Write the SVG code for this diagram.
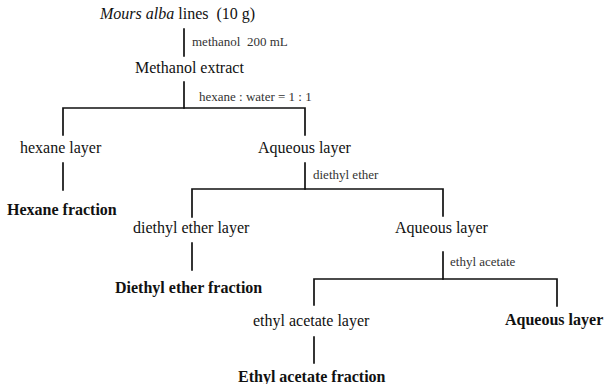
<svg xmlns="http://www.w3.org/2000/svg" width="605" height="384" viewBox="0 0 605 384">
<style>
.n{font-family:"Liberation Serif","Times New Roman",serif;font-size:16px;fill:#111}
.b{font-weight:bold}
.s{font-family:"Liberation Serif","Times New Roman",serif;font-size:13px;fill:#333}
.c{stroke:#111;stroke-width:1.7;fill:none;stroke-linecap:square}
</style>
<rect width="605" height="384" fill="#fff"/>
<g id="connectors" class="c">
<path d="M184,29V56"/>
<path d="M184,82V108"/>
<path d="M63,135V108H305V135"/>
<path d="M63,163V190"/>
<path d="M305,163V189"/>
<path d="M192,217V189H443V216"/>
<path d="M192,243V270"/>
<path d="M443,252V279"/>
<path d="M314,305V279H557V306"/>
<path d="M314,337V363"/>
</g>
<g id="labels">
<text class="s" x="192" y="46" xml:space="preserve">methanol  200 mL</text>
<text class="s" x="199" y="101">hexane : water = 1 : 1</text>
<text class="s" x="313" y="179">diethyl ether</text>
<text class="s" x="450" y="266">ethyl acetate</text>
</g>
<g id="start"><text class="n" x="100" y="19" xml:space="preserve"><tspan font-style="italic">Mours alba</tspan> lines  (10 g)</text></g>
<g id="methanol-extract"><text class="n" x="135" y="73">Methanol extract</text></g>
<g id="hexane-layer"><text class="n" x="20" y="153">hexane layer</text></g>
<g id="aqueous-layer-1"><text class="n" x="258" y="153">Aqueous layer</text></g>
<g id="hexane-fraction"><text class="n b" x="7" y="215">Hexane fraction</text></g>
<g id="diethyl-ether-layer"><text class="n" x="133" y="233">diethyl ether layer</text></g>
<g id="aqueous-layer-2"><text class="n" x="395" y="233">Aqueous layer</text></g>
<g id="diethyl-ether-fraction"><text class="n b" x="115" y="293">Diethyl ether fraction</text></g>
<g id="ethyl-acetate-layer"><text class="n" x="253" y="326">ethyl acetate layer</text></g>
<g id="aqueous-layer-3"><text class="n b" x="505" y="325">Aqueous layer</text></g>
<g id="ethyl-acetate-fraction"><text class="n b" x="238" y="382">Ethyl acetate fraction</text></g>
</svg>
